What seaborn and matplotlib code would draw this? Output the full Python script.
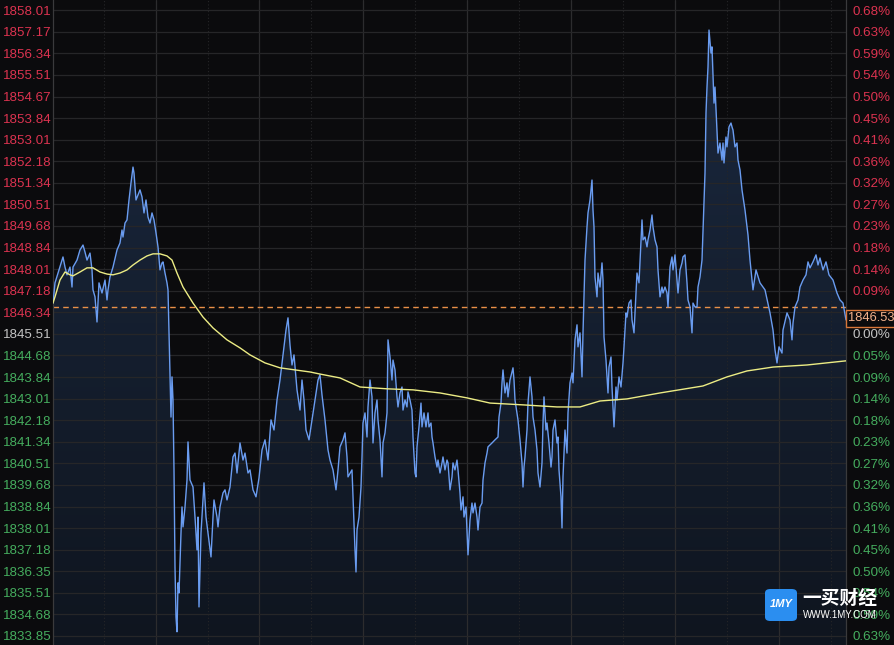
import matplotlib.pyplot as plt
import numpy as np
import seaborn as sns
from matplotlib.colors import LinearSegmentedColormap
from matplotlib.patches import FancyBboxPatch, Rectangle

BG = "#0b0b0d"
RED = "#dc3350"
GREEN = "#45ad5e"
NEUTRAL = "#c4c4c4"

# intraday ticks (x position along the session) and price
ticks = [
    1, 3, 6, 10, 11, 13, 15, 18, 20, 21, 25, 28, 31, 33, 35, 38, 40, 41, 43, 45,
    47, 50, 53, 55, 56, 58, 61, 65, 68, 70, 71, 73, 75, 77, 79, 81, 82, 84, 86, 88,
    90, 92, 94, 96, 98, 100, 102, 104, 106, 108, 110, 111, 113, 115, 116,
    117, 119, 120, 121, 122, 123, 124, 125, 126, 127, 129, 130, 131, 133, 135, 136,
    138, 141, 143, 145, 146, 147, 149, 151, 152, 154, 156, 159, 161, 162, 165, 166,
    168, 171, 173, 175, 178, 181, 183, 185, 188, 191, 193, 196,
    198, 201, 204, 207, 210, 213, 216, 219, 222, 225, 228, 231, 234, 236, 238, 240,
    242, 245, 248, 250, 252, 254, 257, 260, 263, 266, 268, 270, 273, 276, 278, 281,
    284, 286,
    288, 291, 293, 295, 296, 300, 301, 303, 304, 305, 307, 309, 310, 311, 313, 315,
    316, 318, 320, 321, 323, 325, 326, 328, 330, 331, 333, 335, 336, 338, 340, 341,
    343, 345, 346, 348, 350, 351, 353, 355, 356, 358, 360, 361, 363, 364, 365, 367,
    369, 370, 372, 374, 376, 377, 379, 380, 381, 383, 385, 386, 388, 390, 391, 393,
    395, 396, 398, 400, 401, 403, 405, 406, 408, 409, 411, 412, 414, 415, 416, 418,
    420, 421, 423, 425, 426, 428, 430, 431, 433, 435, 436, 440, 443, 446, 447, 449,
    450, 451, 453, 455, 456, 458, 461, 462, 463, 465, 466, 468, 470, 471, 472, 473,
    475, 476, 478, 480, 481, 483, 485, 486, 488, 490, 491, 492, 494, 495, 497, 499,
    500, 501, 503, 505, 506, 507, 509, 510, 511, 513, 515, 516, 518, 520, 521, 523,
    525, 526, 528, 530, 531, 533, 535, 536, 538, 540, 541, 542, 543, 545, 546, 548,
    550, 551, 552, 554, 556, 557, 559, 560, 562, 564, 565, 567, 569, 571, 572, 574,
    575, 577, 579, 580, 582, 584, 585, 587, 589, 590, 591, 593, 595, 596, 598, 600,
    601, 603, 605, 606, 608, 610, 611, 613, 615, 616, 618, 620, 621, 623, 625, 626,
    628, 630, 631, 633, 635, 636, 638, 640, 641, 643, 645, 646, 648, 650, 651, 653,
    654, 655, 656, 657, 659, 660, 661, 662, 663, 665, 666, 668, 670, 671, 672, 674,
    675, 677, 679, 680, 681, 683, 685, 686, 688, 690, 693, 696, 698, 701, 704, 708,
    713, 718, 721, 723, 725, 727, 730, 731, 735, 738, 740, 741, 743, 746, 748, 751,
    754, 756, 758, 761, 764, 766, 768, 771, 774, 777, 781, 785, 788, 791, 794,
]
price = [
    1846.70, 1847.48, 1847.86, 1848.36, 1848.48, 1848.09, 1847.79, 1848.09, 1847.32, 1848.09,
    1848.36, 1848.75, 1848.94, 1848.67, 1848.36, 1848.63, 1847.98, 1847.21, 1846.94, 1845.97,
    1847.48, 1847.09, 1847.59, 1846.82, 1847.21, 1847.71, 1848.09, 1848.75, 1849.02, 1849.52,
    1849.25, 1849.79, 1849.91, 1850.68, 1851.34, 1851.95, 1851.72, 1850.68, 1850.87, 1851.07,
    1850.80, 1850.18, 1850.68, 1850.02, 1849.79, 1850.18, 1849.91, 1849.41, 1848.87, 1847.98,
    1848.25, 1848.29, 1847.86, 1847.48, 1847.21,
    1845.55, 1842.30, 1843.85, 1842.96, 1840.26, 1836.51, 1834.58, 1834.01, 1835.90, 1835.51,
    1837.83, 1838.83, 1838.06, 1838.83, 1839.87, 1841.34, 1839.87, 1839.60, 1838.44, 1837.17,
    1838.44, 1834.97, 1837.83, 1839.10, 1839.76, 1838.44, 1837.83, 1836.90, 1838.44, 1839.10,
    1838.44, 1838.06, 1838.83, 1839.37, 1839.49, 1839.10, 1839.60, 1840.76, 1840.91, 1840.14,
    1841.30, 1840.64, 1840.91, 1840.14,
    1840.26, 1839.49, 1839.22, 1839.95, 1841.03, 1841.42, 1840.64, 1842.19, 1841.80, 1842.96,
    1843.73, 1844.70, 1845.66, 1846.13, 1845.08, 1844.31, 1844.70, 1843.35, 1842.57, 1843.73,
    1842.96, 1841.80, 1841.42, 1842.19, 1842.96, 1843.73, 1843.93, 1843.15, 1842.19, 1841.03,
    1840.64, 1840.26, 1839.49, 1840.26,
    1841.15, 1841.42, 1841.69, 1840.76, 1839.99, 1840.26, 1839.22, 1837.17, 1836.32, 1837.94,
    1838.44, 1839.60, 1840.76, 1842.07, 1842.46, 1841.53, 1842.69, 1843.73, 1843.08, 1841.30,
    1842.46, 1842.96, 1842.19, 1841.42, 1839.99, 1841.30, 1841.69, 1842.46, 1845.28, 1844.62,
    1843.73, 1844.50, 1844.12, 1843.08, 1842.69, 1843.23, 1843.46, 1842.57, 1842.96, 1842.69,
    1843.27, 1842.96, 1842.57, 1841.53, 1840.14, 1839.99, 1841.15, 1841.92, 1842.84, 1841.92,
    1842.46, 1841.92, 1842.46, 1841.92, 1842.07, 1841.53, 1841.30, 1840.76, 1840.37, 1840.64,
    1840.14, 1840.53, 1840.76, 1840.26, 1840.64, 1840.53, 1839.49, 1839.99, 1840.53, 1840.26,
    1840.64, 1840.26, 1839.37, 1838.71, 1839.22, 1838.44, 1838.83, 1837.94, 1836.98, 1838.33,
    1838.98, 1838.60, 1838.98, 1838.44, 1837.94, 1838.83, 1838.98, 1839.87, 1840.53, 1840.91,
    1841.15, 1841.30, 1841.42, 1841.53, 1842.30, 1842.84, 1843.62, 1844.12, 1843.23, 1843.62,
    1843.08, 1843.73, 1844.20, 1843.73, 1842.96, 1842.46, 1842.19, 1841.42, 1840.53, 1839.60,
    1840.37, 1840.76, 1841.80, 1842.84, 1843.85, 1843.08, 1842.30, 1841.80, 1841.03, 1840.14,
    1839.60, 1840.53, 1842.07, 1843.08, 1841.80, 1842.07, 1841.30, 1840.37, 1840.76, 1841.80,
    1842.19, 1841.30, 1841.53, 1840.26, 1839.22, 1838.02, 1839.99, 1841.80, 1840.91, 1842.46,
    1843.62, 1844.00, 1843.62, 1845.28, 1845.86, 1845.01, 1845.55, 1843.85, 1845.55, 1848.36,
    1849.64, 1850.18, 1850.68, 1851.45, 1850.29, 1849.64, 1847.71, 1846.94, 1847.86, 1847.32,
    1848.25, 1847.59, 1845.39, 1844.50, 1843.23, 1844.23, 1844.62, 1843.46, 1841.92, 1843.46,
    1842.96, 1843.85, 1843.46, 1844.39, 1845.01, 1846.32, 1846.16, 1846.70, 1846.82, 1846.05,
    1845.55, 1847.09, 1847.86, 1847.48, 1849.14, 1849.91, 1849.14, 1849.25, 1848.87, 1849.14,
    1849.52, 1850.10, 1849.64, 1849.14, 1848.87, 1847.98, 1846.94, 1847.32, 1847.09, 1847.32,
    1847.09, 1846.55, 1848.09, 1848.48, 1847.98, 1848.56, 1847.59, 1847.09, 1847.98, 1848.25,
    1848.48, 1848.56, 1847.48, 1846.82, 1846.55, 1845.55, 1846.70, 1846.55, 1846.55, 1847.32,
    1847.71, 1848.36, 1849.52, 1851.72, 1854.04, 1855.04, 1855.81, 1857.24, 1856.35, 1856.59,
    1855.51, 1854.42, 1855.04, 1853.38, 1852.49, 1852.88, 1852.22, 1852.88, 1852.11, 1853.11,
    1852.73, 1853.50, 1853.65, 1853.50, 1853.38, 1852.73, 1852.88, 1852.22, 1851.84, 1851.07,
    1850.29, 1849.33, 1848.36, 1847.21, 1847.98, 1847.48, 1847.21, 1846.32, 1845.66, 1844.89,
    1844.39, 1845.01, 1844.77, 1845.66, 1846.32, 1846.05, 1845.28, 1845.93, 1846.55, 1846.82,
    1847.32, 1847.59, 1847.79, 1848.29, 1848.06, 1848.29, 1848.56, 1848.17, 1848.44, 1847.98,
    1848.29, 1847.79, 1847.59, 1847.09, 1846.82, 1846.70, 1846.05,
]

# average price line
avg_ticks = [1, 3, 8, 13, 18, 21, 28, 35, 41, 48, 55, 61, 68, 75, 81, 88, 95, 101, 108, 115,
             120, 125, 131, 141, 151, 161, 175, 188, 198, 213, 228, 243, 258, 268, 288, 308,
             335, 361, 388, 415, 438, 471, 505, 528, 548, 575, 608, 651, 675, 695, 721, 755, 794]
avg_price = [1846.70, 1846.94, 1847.59, 1847.90, 1847.79, 1847.75, 1847.90, 1848.06, 1848.06,
             1847.90, 1847.82, 1847.79, 1847.86, 1847.98, 1848.17, 1848.36, 1848.52, 1848.60,
             1848.60, 1848.52, 1848.36, 1847.86, 1847.32, 1846.70, 1846.16, 1845.74, 1845.28,
             1844.97, 1844.70, 1844.39, 1844.20, 1844.12, 1844.04, 1843.96, 1843.81, 1843.46,
             1843.39, 1843.35, 1843.23, 1843.04, 1842.84, 1842.77, 1842.69, 1842.69, 1842.92,
             1843.00, 1843.23, 1843.50, 1843.85, 1844.08, 1844.23, 1844.31, 1844.47]

prev_close = 1846.53

left_labels = ["1858.01", "1857.17", "1856.34", "1855.51", "1854.67", "1853.84", "1853.01",
               "1852.18", "1851.34", "1850.51", "1849.68", "1848.84", "1848.01", "1847.18",
               "1846.34", "1845.51", "1844.68", "1843.84", "1843.01", "1842.18", "1841.34",
               "1840.51", "1839.68", "1838.84", "1838.01", "1837.18", "1836.35", "1835.51",
               "1834.68", "1833.85"]
# the row under the price tag is hidden in the reference, so it stays empty
right_labels = ["0.68%", "0.63%", "0.59%", "0.54%", "0.50%", "0.45%", "0.41%", "0.36%",
                "0.32%", "0.27%", "0.23%", "0.18%", "0.14%", "0.09%", "", "0.00%",
                "0.05%", "0.09%", "0.14%", "0.18%", "0.23%", "0.27%", "0.32%", "0.36%",
                "0.41%", "0.45%", "0.50%", "0.54%", "0.59%", "0.63%"]
neutral_row = 15

sns.set_style("dark", {"axes.facecolor": BG, "figure.facecolor": BG})
plt.rcParams["font.family"] = ["Liberation Sans", "DejaVu Sans"]

fig = plt.figure(figsize=(8.95, 6.45), dpi=100, facecolor=BG)
ax = fig.add_axes([53 / 895, 0, 793 / 895, 1])
ax.set_facecolor(BG)
ax.set_xlim(1, 794)
ax.set_ylim(1833.50, 1858.40)

# grid
yvals = [float(v) for v in left_labels]
ax.set_yticks(yvals)
ax.set_xticks(103.6 + 103.9 * np.arange(7))
ax.set_xticks(51.7 + 103.9 * np.arange(8), minor=True)
ax.grid(True, which="major", axis="y", color="#262628", lw=0.9)
ax.grid(True, which="major", axis="x", color="#2c2c2e", lw=0.9)
ax.grid(True, which="minor", axis="x", color="#262628", lw=0.8, ls=(0, (1, 2)))
ax.set_axisbelow("line")
ax.tick_params(axis="x", which="both", length=0, labelbottom=False)
for side in ["top", "bottom"]:
    ax.spines[side].set_visible(False)
for side in ["left", "right"]:
    ax.spines[side].set_color("#3a3a3c")
    ax.spines[side].set_linewidth(0.9)

# gradient fill below price line
poly = ax.fill_between(ticks, price, 1833.50, color="none", lw=0)
cmap = LinearSegmentedColormap.from_list("fillgrad", ["#0f151f", "#1b2940"])
grad = np.linspace(0, 1, 256).reshape(-1, 1)
im = ax.imshow(grad, extent=[1, 794, 1833.50, 1858.40], origin="lower", aspect="auto",
               cmap=cmap, zorder=1)
im.set_clip_path(poly.get_paths()[0], transform=ax.transData)

sns.lineplot(x=ticks, y=price, color="#6a9cf0", lw=1.0, ax=ax, estimator=None, zorder=3)
sns.lineplot(x=avg_ticks, y=avg_price, color="#ecec84", lw=1.0, ax=ax, estimator=None, zorder=4)
ax.axhline(prev_close, color="#ea9048", lw=1.0, ls=(0, (4, 3)), zorder=2.5)
ax.set_xlabel("")
ax.set_ylabel("")

# left tick labels
ax.tick_params(axis="y", length=0, pad=1.0, labelsize=9.6)
ax.set_yticklabels(left_labels)
for i, lab in enumerate(ax.get_yticklabels()):
    lab.set_color(RED if i < neutral_row else NEUTRAL if i == neutral_row else GREEN)

# right tick labels
ax2 = ax.twinx()
ax2.set_ylim(ax.get_ylim())
ax2.set_yticks(yvals)
ax2.set_yticklabels(right_labels)
ax2.tick_params(axis="y", length=0, pad=4.5, labelsize=9.6)
for i, lab in enumerate(ax2.get_yticklabels()):
    lab.set_color(RED if i < neutral_row else NEUTRAL if i == neutral_row else GREEN)
for side in ax2.spines:
    ax2.spines[side].set_visible(False)
ax2.grid(False)

# price tag on the right
fig.patches.append(Rectangle((846.5 / 895, 318 / 645), 49 / 895, 17 / 645,
                             transform=fig.transFigure, facecolor=BG,
                             edgecolor="#d9773a", lw=1.0, zorder=5))
fig.text(871.5 / 895, 326.5 / 645, f"{prev_close:.2f}", color="#f3b28c", fontsize=9.3,
         ha="center", va="center", zorder=6)

# watermark
fig.patches.append(FancyBboxPatch((765 / 895, 24 / 645), 32 / 895, 32 / 645,
                                  boxstyle="round,pad=0.0,rounding_size=0.006",
                                  transform=fig.transFigure, facecolor="#2b8ef0",
                                  edgecolor="none", zorder=5))
fig.text(781 / 895, 41 / 645, "1MY", color="white", fontsize=8, fontweight="bold",
         style="italic", ha="center", va="center", zorder=6)
fig.text(802 / 895, 47 / 645, "一买财经", color="white", fontsize=13.5, fontweight="bold",
         family=["Noto Sans CJK SC", "DejaVu Sans"], ha="left", va="center", zorder=6)
fig.text(803 / 895, 30 / 645, "WWW.1MY.COM", color="white", fontsize=7,
         ha="left", va="center", zorder=6)

fig.savefig("out.png", dpi=100, facecolor=BG)
